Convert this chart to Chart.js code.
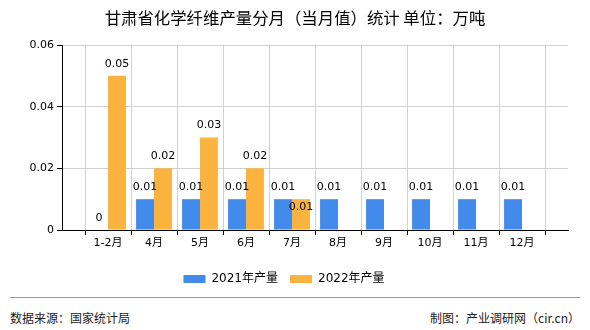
<!DOCTYPE html>
<html><head><meta charset="utf-8">
<script src="https://cdn.jsdelivr.net/npm/chart.js@4/dist/chart.umd.min.js"></script>
<style>
html,body{margin:0;padding:0;background:#fff;}
#wrap{position:relative;width:590px;height:330px;}
#c{position:absolute;left:0;top:0;}
#title{position:absolute;left:0;top:6px;width:590px;text-align:center;font:16.4px "Noto Sans CJK SC",sans-serif;color:#000;line-height:22px;white-space:pre;}
#line{position:absolute;left:10px;top:297px;width:570px;height:0;border-top:1px solid #999;}
.ft{position:absolute;top:309px;font:12px "Noto Sans CJK SC",sans-serif;color:#222;}
</style></head><body>
<div id="wrap">
<canvas id="c" width="590" height="295"></canvas>
<div id="title">甘肃省化学纤维产量分月（当月值）统计 单位：万吨</div>
<div id="line"></div>
<div class="ft" style="left:10px">数据来源：国家统计局</div>
<div class="ft" style="right:10px">制图：产业调研网（cir.cn）</div>
</div>
<script>
const categories = ['', '1-2月', '4月', '5月', '6月', '7月', '8月', '9月', '10月', '11月', '12月', ''];
const series2021 = [null, 0, 0.01, 0.01, 0.01, 0.01, 0.01, 0.01, 0.01, 0.01, 0.01, null];
const series2022 = [null, 0.05, 0.02, 0.03, 0.02, 0.01, null, null, null, null, null, null];
const yTicks = [0, 0.02, 0.04, 0.06];
const seriesNames = ['2021年产量', '2022年产量'];

const FONT = '"DejaVu Sans","Noto Sans CJK SC",sans-serif';

const labelPlugin = {
  id: 'barLabels',
  afterDatasetsDraw(chart) {
    const ctx = chart.ctx;
    ctx.save();
    ctx.font = '11px ' + FONT;
    ctx.fillStyle = '#000';
    ctx.textAlign = 'center';
    ctx.textBaseline = 'middle';
    const placed = [];
    chart.data.datasets.forEach((ds, di) => {
      const meta = chart.getDatasetMeta(di);
      meta.data.forEach((bar, i) => {
        const v = ds.data[i];
        if (v === null || v === undefined) return;
        const txt = String(v);
        const w = ctx.measureText(txt).width;
        let y = bar.y - 12;
        for (const p of placed) {
          if (Math.abs(p.y - y) < 12 && Math.abs(p.x - bar.x) < (p.w + w) / 2) {
            y += 20;
          }
        }
        placed.push({x: bar.x, y, w});
        ctx.fillText(txt, bar.x, y);
      });
    });
    ctx.restore();
  }
};

new Chart(document.getElementById('c'), {
  type: 'bar',
  data: {
    labels: categories,
    datasets: [
      {label: seriesNames[0], data: series2021, backgroundColor: '#428BEB', categoryPercentage: 0.78, barPercentage: 1},
      {label: seriesNames[1], data: series2022, backgroundColor: '#FBB33F', categoryPercentage: 0.78, barPercentage: 1}
    ]
  },
  options: {
    responsive: false,
    animation: false,
    events: [],
    layout: {padding: {left: 0, right: 22, top: 45, bottom: 0}},
    plugins: {
      title: {display: false},
      legend: {position: 'bottom', labels: {boxWidth: 22, boxHeight: 8, color: '#000',
        font: {family: FONT, size: 12}, padding: 12}},
      tooltip: {enabled: false}
    },
    scales: {
      x: {
        offset: false,
        grid: {display: true, color: '#d0d0d0', drawTicks: true, tickLength: 5, tickColor: '#000'},
        border: {color: '#000'},
        ticks: {color: '#000', font: {family: FONT, size: 11}, maxRotation: 0, autoSkip: false, padding: 2},
        afterFit(s) { s.height = 31; }
      },
      y: {
        min: 0, max: 0.06,
        afterBuildTicks(s) { s.ticks = yTicks.map(v => ({value: v})); },
        grid: {color: '#d0d0d0', tickLength: 5, tickColor: '#000'},
        border: {color: '#000'},
        ticks: {color: '#000', font: {family: FONT, size: 11}, padding: 3,
          callback: v => String(v)},
        afterFit(s) { s.width = 62; }
      }
    }
  },
  plugins: [labelPlugin]
});
</script>
</body></html>
